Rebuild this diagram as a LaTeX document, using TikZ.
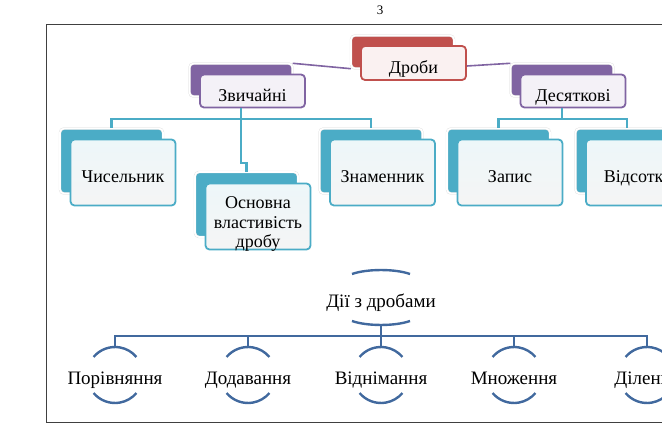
\documentclass[tikz,border=0pt]{standalone}
\usepackage{fontspec}
\setmainfont{Liberation Serif}
\usetikzlibrary{calc,backgrounds}
\definecolor{frred}{HTML}{C0504D}
\definecolor{frpurple}{HTML}{8064A2}
\definecolor{frteal}{HTML}{4BACC6}
\definecolor{frblue}{HTML}{41699E}
\definecolor{frframe}{HTML}{404040}

\begin{document}
\begin{tikzpicture}[x=1pt, y=1pt,
  backbox/.style={rounded corners=4pt, draw=gray!25, double=white, double distance=1.6pt, minimum width=103pt, inner sep=0pt},
  frontbox/.style={rounded corners=4pt, line width=1.8pt, minimum width=105pt, inner sep=0pt, font=\fontsize{18}{19.5}\selectfont, text height=25.5pt, text depth=4.5pt},
  redback/.style={backbox, fill=frred, minimum height=33pt},
  redfront/.style={frontbox, draw=frred, fill=frred!8, minimum height=34pt},
  purpleback/.style={backbox, fill=frpurple, minimum height=33pt},
  purplefront/.style={frontbox, draw=frpurple, fill=frpurple!9, minimum height=33pt},
  tealback/.style={backbox, fill=frteal, minimum height=65pt},
  tealfront/.style={frontbox, draw=frteal, top color=frteal!10, bottom color=gray!8, minimum height=66pt},
  purpleline/.style={frpurple, line width=1.6pt},
  tealline/.style={frteal, line width=2.2pt},
  optext/.style={font=\fontsize{19}{20}\selectfont, inner sep=0pt, text height=13pt, text depth=4pt},
  opline/.style={frblue, line width=2.4pt},
]
\useasboundingbox (0,0) rectangle (662,424);
\clip (0,0) rectangle (662,424);
% page frame and number
\draw[frframe, line width=1pt] (46,2) rectangle (700,399.5);
\node[font=\fontsize{13}{14}\selectfont] (pagenum) at (380,414) {3};

% top levels
\node[redback] (drobiB) at (402.5,372) {};
\node[redfront] (drobi) at (413.5,361) {Дроби};
\node[purpleback] (zvychB) at (241,344) {};
\node[purplefront] (zvych) at (252.5,333) {Звичайні};
\node[purpleback] (desyatB) at (562,344) {};
\node[purplefront] (desyat) at (573,333) {Десяткові};

% leaves
\foreach \n/\x/\t in {chysel/111.5/Чисельник, znamen/371/Знаменник, zapys/498.5/Запис, vidsot/627/Відсотки} {
  \node[tealback] (\n B) at (\x,263) {};
  \node[tealfront] (\n) at (\x+11.5,251.5) {\t};
}
\node[tealback] (osnovB) at (246.5,219.5) {};
\node[tealfront, align=center, text height=64pt, text depth=2pt] (osnov) at (258,207.5) {Основна\\властивість\\дробу};

\begin{scope}[on background layer]
\draw[purpleline] (drobiB.south west) -- (zvychB.north east);
\draw[purpleline] ([yshift=-3pt]drobi.east) -- (desyatB.north west);
\end{scope}
\draw[tealline] (zvych.south -| zvychB.center) -- ++(0,-11) -| (chyselB.north);
\draw[tealline] (zvych.south -| zvychB.center) -- ++(0,-11) -| (znamenB.north);
\draw[tealline] (zvych.south -| zvychB.center) |- ([yshift=9pt]osnovB.north) -- (osnovB.north);
\draw[tealline] (desyat.south -| desyatB.center) -- ++(0,-11) -| (zapysB.north);
\draw[tealline] (desyat.south -| desyatB.center) -- ++(0,-11) -| (vidsotB.north);

% operations
\node[optext] (dii) at (381,121) {Дії з дробами};
\draw[opline] ([shift={(-29,29)}]dii.center) .. controls +(15,5.3) and +(-15,5.3) .. ([shift={(29,29)}]dii.center);
\draw[opline] ([shift={(-29,-18)}]dii.center) .. controls +(15,-5.3) and +(-15,-5.3) .. ([shift={(29,-18)}]dii.center);
\coordinate (diilow) at ([yshift=-21pt]dii.center);
\coordinate (hub) at (381,88);
\draw[opline] (diilow) -- (hub);
\foreach \i/\x/\t in {1/115/Порівняння, 2/248/Додавання, 3/381/Віднімання, 4/514/Множення, 5/647/Ділення} {
  \node[optext] (op\i) at (\x,44) {\t};
  \draw[opline] ([yshift=5pt]op\i.center) ++(140:28) arc[start angle=140, end angle=40, radius=28];
  \draw[opline] ([yshift=5pt]op\i.center) ++(220:28) arc[start angle=220, end angle=320, radius=28];
  \coordinate (top\i) at ([yshift=33pt]op\i.center);
  \draw[opline] (top\i) |- (hub);
}
\end{tikzpicture}
\end{document}
